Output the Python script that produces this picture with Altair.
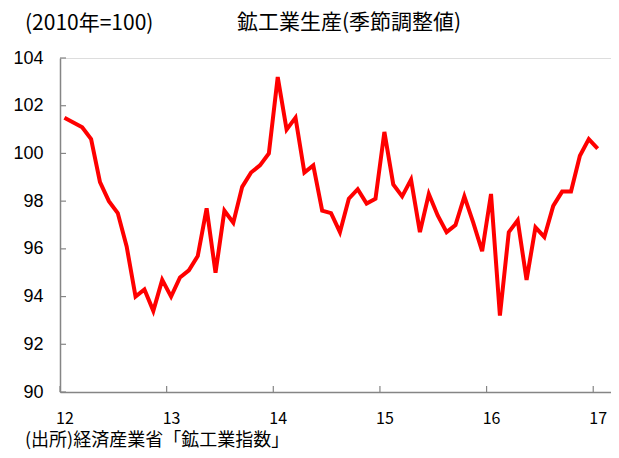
import json
import altair as alt
import pandas as pd

# Monthly index (2010=100), Jan 2012 .. Jan 2017
values = [
    101.5, 101.3, 101.1, 100.6, 98.8, 98.0, 97.5, 96.1, 94.0, 94.3, 93.4, 94.7,
    94.0, 94.8, 95.1, 95.7, 97.7, 95.0, 97.6, 97.1, 98.6, 99.2, 99.5, 100.0,
    103.2, 101.0, 101.5, 99.2, 99.5, 97.6, 97.5, 96.7, 98.1, 98.5, 97.9, 98.1,
    100.9, 98.7, 98.2, 98.9, 96.7, 98.3, 97.4, 96.7, 97.0, 98.2, 97.1, 95.9,
    98.3, 93.2, 96.7, 97.2, 94.7, 96.9, 96.5, 97.8, 98.4, 98.4, 99.9, 100.6,
    100.2,
]
year_labels = ["12", "13", "14", "15", "16", "17"]
y_ticks = [90, 92, 94, 96, 98, 100, 102, 104]

title_text = "鉱工業生産(季節調整値)"
unit_text = "(2010年=100)"
source_text = "(出所)経済産業省「鉱工業指数」"

df = pd.DataFrame({"t": list(range(len(values))), "v": values})
label_pos = [12 * i for i in range(len(year_labels))]
xtick_pos = [12 * i - 0.5 for i in range(len(year_labels))]

W, H = 551, 334
AX = "#858585"
xs = alt.Scale(domain=[-0.5, 61.5], nice=False, zero=False)
ys = alt.Scale(domain=[90, 104], nice=False, zero=False)

label_expr = json.dumps(year_labels) + "[round(datum.value/12)]"

line = alt.Chart(df).mark_line(color="#FF0000", strokeWidth=4).encode(
    x=alt.X("t:Q", scale=xs, axis=alt.Axis(
        values=label_pos, labelExpr=label_expr, title=None, grid=False,
        ticks=False, domainColor=AX, domainWidth=1.5,
        labelFont="Noto Sans CJK JP", labelFontSize=16, labelColor="#000000",
        labelPadding=18)),
    y=alt.Y("v:Q", scale=ys, axis=alt.Axis(
        values=y_ticks, title=None, grid=False, ticks=False,
        domainColor=AX, domainWidth=1.5,
        labelFont="Liberation Sans", labelFontSize=18, labelColor="#000000",
        labelPadding=17)),
)

yt = alt.Chart(pd.DataFrame({"y": y_ticks})).mark_rule(color=AX, strokeWidth=1.2).encode(
    y=alt.Y("y:Q", scale=ys), x=alt.value(0), x2=alt.value(6))
xt = alt.Chart(pd.DataFrame({"x": xtick_pos})).mark_rule(color=AX, strokeWidth=1.2).encode(
    x=alt.X("x:Q", scale=xs), y=alt.value(H), y2=alt.value(H - 6))

def txt(s, x, y, size):
    return alt.Chart(pd.DataFrame({"s": [s]})).mark_text(
        align="left", baseline="middle", font="Noto Sans CJK JP",
        fontSize=size, color="#000000").encode(
        text="s:N", x=alt.value(x), y=alt.value(y))

chart = alt.layer(
    line, yt, xt,
    txt(unit_text, -35, -34, 21),
    txt(title_text, 177, -35, 21),
    txt(source_text, -35, 383, 18),
).properties(
    width=W, height=H,
    autosize=alt.AutoSizeParams(type="none"),
    padding={"left": 52, "top": 50, "right": 0, "bottom": 58},
).configure_view(stroke=None).configure(background="white")

chart.save("out.html", embed_options={"renderer": "svg", "actions": False})
